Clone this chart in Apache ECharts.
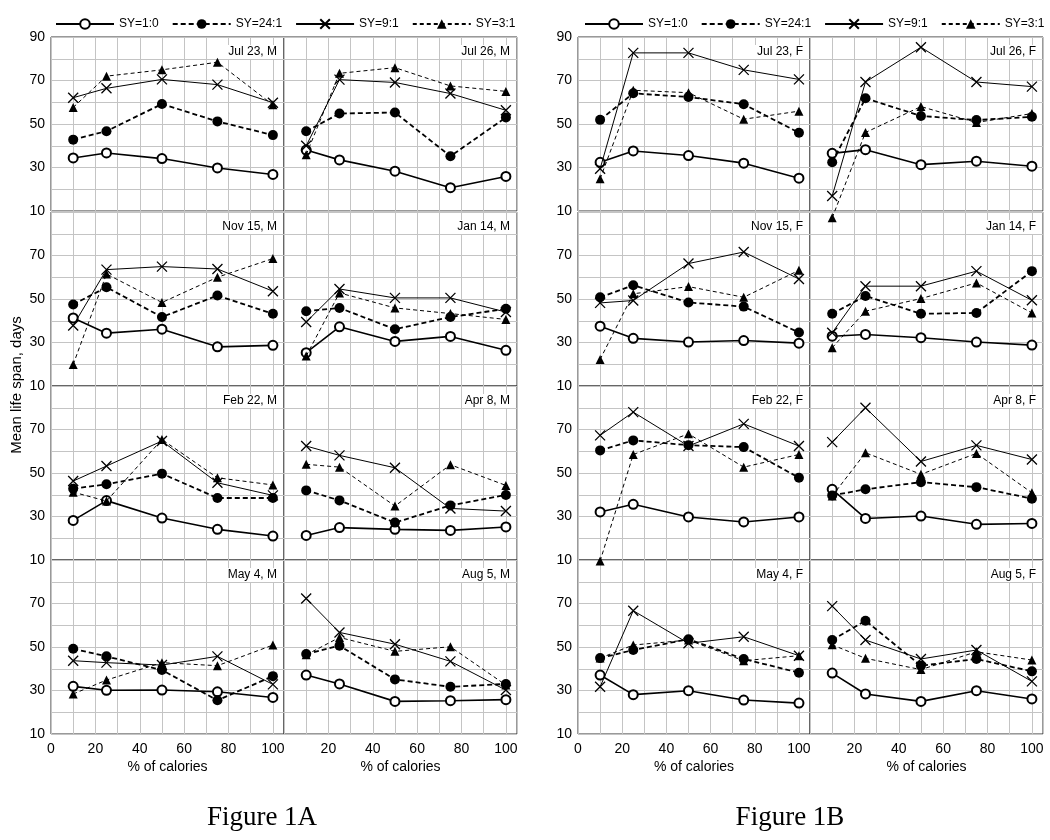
<!DOCTYPE html>
<html><head><meta charset="utf-8">
<script src="https://cdn.jsdelivr.net/npm/echarts@6/dist/echarts.min.js"></script>
<style>html,body{margin:0;padding:0;background:#fff}#c{width:1050px;height:840px}</style>
</head><body><div id="c"></div>
<script>
// ---- data ----
const xPct = [10, 25, 50, 75, 100];
const seriesNames = ['SY=1:0', 'SY=24:1', 'SY=9:1', 'SY=3:1'];
const yTicks = [10, 30, 50, 70, 90];
const xTicks = [0, 20, 40, 60, 80, 100];
// each panel: [SY=1:0, SY=24:1, SY=9:1, SY=3:1]
const jul23M = [[34.4,36.7,34.1,29.8,26.8],[42.8,46.7,59.2,51.2,44.9],[62.1,66.4,70.5,68.1,59.8],[57.6,72.0,74.9,78.4,58.8]];
const jul26M = [[38.0,33.5,28.3,20.7,25.9],[46.7,54.8,55.3,35.2,53.0],[40.0,70.4,69.1,64.0,56.3],[35.9,73.3,75.9,67.5,65.0]];
const nov15M = [[41.3,34.3,36.1,28.0,28.7],[47.5,55.4,41.7,51.6,43.2],[37.8,63.5,64.9,63.8,53.6],[19.9,61.5,48.4,60.0,68.6]];
const jan14M = [[25.3,37.2,30.5,32.8,26.4],[44.4,45.9,36.1,41.7,45.5],[39.4,54.6,50.5,50.5,44.0],[23.8,52.8,45.9,43.3,40.6]];
const feb22M = [[28.2,37.3,29.3,24.1,21.0],[42.8,44.8,49.7,38.5,38.5],[46.3,53.2,64.7,45.5,39.7],[41.2,37.1,65.4,47.8,44.5]];
const apr8M  = [[21.3,24.9,24.1,23.6,25.2],[42.0,37.4,27.2,35.1,39.9],[62.4,58.1,52.4,33.7,32.5],[54.0,52.7,34.8,53.8,44.3]];
const may4M  = [[31.9,30.1,30.2,29.4,26.8],[49.2,45.7,39.4,25.5,36.6],[43.7,42.8,41.7,45.7,32.8],[28.4,34.8,42.8,41.4,50.9]];
const aug5M  = [[37.1,33.0,25.0,25.3,25.8],[46.8,50.6,35.1,31.7,33.0],[72.3,56.7,51.3,43.4,30.2],[46.4,54.4,48.0,50.1,32.5]];
const jul23F = [[32.4,37.6,35.5,32.0,25.1],[51.9,64.1,62.4,59.1,46.0],[29.4,82.7,82.7,74.9,70.5],[24.8,65.5,64.4,52.2,55.9]];
const jul26F = [[36.5,38.2,31.3,32.9,30.6],[32.4,61.8,53.7,51.8,53.3],[16.9,69.3,85.3,69.3,67.2],[6.9,46.1,58.0,50.7,54.8]];
const nov15F = [[37.5,31.9,30.2,30.9,29.7],[50.8,56.3,48.4,46.5,34.6],[48.2,49.3,66.3,71.6,59.2],[22.2,52.4,55.7,50.8,63.2]];
const jan14F = [[32.9,33.7,32.2,30.2,28.8],[43.2,51.4,43.2,43.6,62.8],[34.5,55.9,55.9,62.8,49.4],[27.6,44.4,50.2,57.4,43.6]];
const feb22F = [[32.1,35.6,29.8,27.5,29.8],[60.4,65.0,62.8,61.9,47.8],[67.3,78.0,62.4,72.6,62.4],[9.5,58.5,68.0,52.7,58.5]];
const apr8F  = [[42.5,29.1,30.2,26.4,26.8],[39.7,42.5,45.8,43.5,38.2],[64.2,80.0,55.3,62.7,56.2],[39.4,59.3,49.4,59.0,40.9]];
const may4F  = [[37.1,28.1,29.9,25.6,24.2],[44.9,48.6,53.6,44.5,38.2],[31.7,66.7,51.7,54.7,46.0],[44.9,50.9,53.2,43.7,46.0]];
const aug5F  = [[38.0,28.4,25.0,29.9,26.1],[53.2,62.1,41.4,44.5,38.8],[68.8,53.2,44.5,48.6,34.2],[51.0,44.8,39.6,47.8,44.0]];

// panels: figure, column, row
const panels = [
  {f:0,c:0,r:0,label:'Jul 23, M',d:jul23M},{f:0,c:1,r:0,label:'Jul 26, M',d:jul26M},
  {f:0,c:0,r:1,label:'Nov 15, M',d:nov15M},{f:0,c:1,r:1,label:'Jan 14, M',d:jan14M},
  {f:0,c:0,r:2,label:'Feb 22, M',d:feb22M},{f:0,c:1,r:2,label:'Apr 8, M',d:apr8M},
  {f:0,c:0,r:3,label:'May 4, M',d:may4M},{f:0,c:1,r:3,label:'Aug 5, M',d:aug5M},
  {f:1,c:0,r:0,label:'Jul 23, F',d:jul23F},{f:1,c:1,r:0,label:'Jul 26, F',d:jul26F},
  {f:1,c:0,r:1,label:'Nov 15, F',d:nov15F},{f:1,c:1,r:1,label:'Jan 14, F',d:jan14F},
  {f:1,c:0,r:2,label:'Feb 22, F',d:feb22F},{f:1,c:1,r:2,label:'Apr 8, F',d:apr8F},
  {f:1,c:0,r:3,label:'May 4, F',d:may4F},{f:1,c:1,r:3,label:'Aug 5, F',d:aug5F}
];

// ---- layout ----
const colLeft = [[51, 284], [578, 810]];
const colWidth = [[233, 233], [232, 233]];
const rowTop = [37, 212, 386, 560];
const rowH = 174;
const FONT = '"Liberation Sans", Arial, sans-serif';

const styles = [
  {symbol:'emptyCircle', size:9, line:{color:'#000', width:1.6, type:'solid'}, item:{color:'#000', borderColor:'#000', borderWidth:1}},
  {symbol:'circle', size:10, line:{color:'#000', width:1.8, type:[5,3]}, item:{color:'#000'}},
  {symbol:'path://M0,0L10,10M10,0L0,10', size:10, line:{color:'#000', width:1, type:'solid'}, item:{color:'#000', borderColor:'#000', borderWidth:1.3}},
  {symbol:'triangle', size:9, line:{color:'#000', width:1, type:[4,3]}, item:{color:'#000'}}
];

const grid = [], xAxis = [], yAxis = [], series = [], graphic = [];
panels.forEach((p, i) => {
  const left = colLeft[p.f][p.c], width = colWidth[p.f][p.c], top = rowTop[p.r];
  grid.push({left: left, top: top, width: width, height: rowH, show: true, borderColor: '#333', borderWidth: 1, containLabel: false});
  const bottomRow = p.r === 3;
  xAxis.push({
    gridIndex: i, type: 'value', min: 0, max: 105, interval: 10,
    axisLine: {show: false}, axisTick: {show: false},
    splitLine: {show: true, lineStyle: {color: '#c4c4c4', width: 1}},
    axisLabel: {
      show: bottomRow, margin: 8, color: '#000', fontSize: 14, fontFamily: FONT,
      formatter: v => (xTicks.indexOf(v) >= 0 && !(p.c === 1 && v === 0)) ? String(v) : ''
    }
  });
  yAxis.push({
    gridIndex: i, type: 'value', min: 10, max: 90, interval: 10,
    axisLine: {show: false}, axisTick: {show: false},
    splitLine: {show: true, lineStyle: {color: '#c4c4c4', width: 1}},
    axisLabel: {
      show: p.c === 0, margin: 6, color: '#000', fontSize: 14, fontFamily: FONT,
      formatter: v => (yTicks.indexOf(v) >= 0 && !(p.r > 0 && v === 90)) ? String(v) : ''
    }
  });
  seriesNames.forEach((nm, k) => {
    const st = styles[k];
    series.push({
      name: nm, type: 'line', xAxisIndex: i, yAxisIndex: i,
      data: xPct.map((x, j) => [x, p.d[k][j]]),
      symbol: st.symbol, symbolSize: st.size, showSymbol: true,
      lineStyle: st.line, itemStyle: st.item, clip: false, animation: false,
      z: 3 + k, emphasis: {disabled: true}
    });
  });
  graphic.push({
    type: 'text', right: 1050 - (left + width) + 5, top: top + 8, z: 1,
    style: {text: p.label, font: '12px ' + FONT, fill: '#000', backgroundColor: '#fff', padding: [1, 2, 1, 2]}
  });
});

// x axis titles under the bottom row
[0, 1].forEach(f => [0, 1].forEach(c => {
  graphic.push({type: 'text', x: colLeft[f][c] + colWidth[f][c] / 2, y: 767,
    style: {text: '% of calories', font: '14px ' + FONT, fill: '#000', align: 'center', verticalAlign: 'middle'}});
}));
graphic.push({type: 'text', x: 17, y: 385, rotation: Math.PI / 2,
  style: {text: 'Mean life span, days', font: '15px ' + FONT, fill: '#000', align: 'center', verticalAlign: 'middle'}});
graphic.push({type: 'text', x: 262, y: 818,
  style: {text: 'Figure 1A', font: '27px "Liberation Serif", "Times New Roman", serif', fill: '#000', align: 'center', verticalAlign: 'middle'}});
graphic.push({type: 'text', x: 790, y: 818,
  style: {text: 'Figure 1B', font: '27px "Liberation Serif", "Times New Roman", serif', fill: '#000', align: 'center', verticalAlign: 'middle'}});

const legendBase = {
  data: seriesNames, top: 18, itemWidth: 58, itemHeight: 12, itemGap: 13, padding: 0,
  textStyle: {fontSize: 12, color: '#000', fontFamily: FONT}, selectedMode: false
};

const chart = echarts.init(document.getElementById('c'), null, {renderer: 'canvas'});
chart.setOption({
  backgroundColor: '#fff', animation: false,
  legend: [Object.assign({left: 55}, legendBase), Object.assign({left: 584}, legendBase)],
  grid, xAxis, yAxis, series, graphic
});
</script></body></html>
